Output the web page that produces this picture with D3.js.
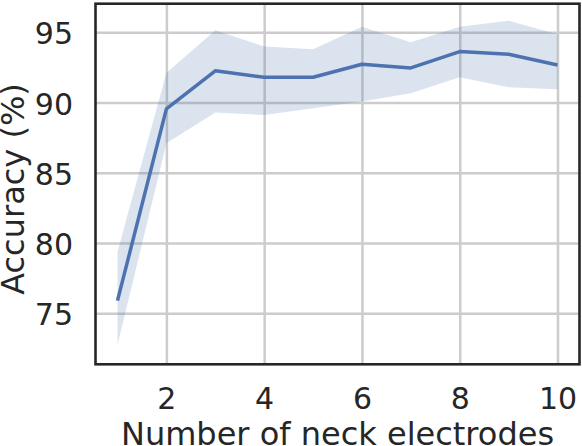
<!DOCTYPE html>
<html>
<head>
<meta charset="utf-8">
<script src="https://cdn.jsdelivr.net/npm/d3@7"></script>
<style>
  body { margin: 0; background: #fff; }
  svg text { font-family: "DejaVu Sans", sans-serif; fill: #262626; }
</style>
</head>
<body>
<div id="chart"></div>
<script>
const electrodes = [1, 2, 3, 4, 5, 6, 7, 8, 9, 10];
const meanAcc = [75.9, 89.55, 92.26, 91.8, 91.8, 92.73, 92.47, 93.63, 93.44, 92.68];
const upperAcc = [79.38, 92.1, 95.15, 93.99, 93.8, 95.4, 94.3, 95.4, 95.83, 94.86];
const lowerAcc = [72.74, 87.1, 89.3, 89.12, 89.6, 90.07, 90.67, 91.8, 91.1, 90.95];
const xTicks = [2, 4, 6, 8, 10];
const yTicks = [75, 80, 85, 90, 95];

const width = 582;
const height = 446;
const plotLeft = 95.5, plotRight = 579.5, plotTop = 3.7, plotBottom = 364.3;
const lineColor = '#4C72B0';

const data = electrodes.map((e, i) => ({x: e, mean: meanAcc[i], lo: lowerAcc[i], hi: upperAcc[i]}));

const svg = d3.select('#chart').append('svg')
    .attr('width', width)
    .attr('height', height);

const scaleX = d3.scaleLinear().domain([0.55, 10.45]).range([plotLeft, plotRight]);
const scaleY = d3.scaleLinear().domain([71.37, 97.04]).range([plotBottom, plotTop]);

// grid + tick labels via d3 axes
const xAxis = svg.append('g')
    .attr('transform', `translate(0, ${plotBottom})`)
    .call(d3.axisBottom(scaleX).tickValues(xTicks).tickSize(-(plotBottom - plotTop)).tickPadding(23.4).tickFormat(d3.format('d')));

const yAxis = svg.append('g')
    .attr('transform', `translate(${plotLeft}, 0)`)
    .call(d3.axisLeft(scaleY).tickValues(yTicks).tickSize(-(plotRight - plotLeft)).tickPadding(22.5).tickFormat(d3.format('d')));

[xAxis, yAxis].forEach(function (ax) {
  ax.select('.domain').remove();
  ax.selectAll('.tick line').attr('stroke', '#cccccc').attr('stroke-width', 2.5);
  ax.selectAll('.tick text')
      .attr('font-size', 30)
      .attr('font-family', 'DejaVu Sans')
      .attr('fill', '#262626');
});
yAxis.selectAll('.tick text').attr('dy', '0.38em');

// confidence band
const band = d3.area()
    .x(function (d) { return scaleX(d.x); })
    .y0(function (d) { return scaleY(d.lo); })
    .y1(function (d) { return scaleY(d.hi); });

svg.append('path')
    .datum(data)
    .attr('d', band)
    .attr('fill', lineColor)
    .attr('fill-opacity', 0.2)
    .attr('stroke', 'none');

// mean line
const meanLine = d3.line()
    .x(function (d) { return scaleX(d.x); })
    .y(function (d) { return scaleY(d.mean); });

svg.append('path')
    .datum(data)
    .attr('d', meanLine)
    .attr('fill', 'none')
    .attr('stroke', lineColor)
    .attr('stroke-width', 3.5)
    .attr('stroke-linejoin', 'round')
    .attr('stroke-linecap', 'butt');

// frame
svg.append('rect')
    .attr('x', plotLeft)
    .attr('y', plotTop)
    .attr('width', plotRight - plotLeft)
    .attr('height', plotBottom - plotTop)
    .attr('fill', 'none')
    .attr('stroke', '#262626')
    .attr('stroke-width', 2.6);

// axis labels
svg.append('text')
    .attr('x', (plotLeft + plotRight) / 2)
    .attr('y', 445)
    .attr('text-anchor', 'middle')
    .attr('font-size', 32)
    .text('Number of neck electrodes');

svg.append('text')
    .attr('transform', `translate(24, ${(plotTop + plotBottom) / 2 + 5}) rotate(-90)`)
    .attr('text-anchor', 'middle')
    .attr('font-size', 32)
    .text('Accuracy (%)');
</script>
</body>
</html>
